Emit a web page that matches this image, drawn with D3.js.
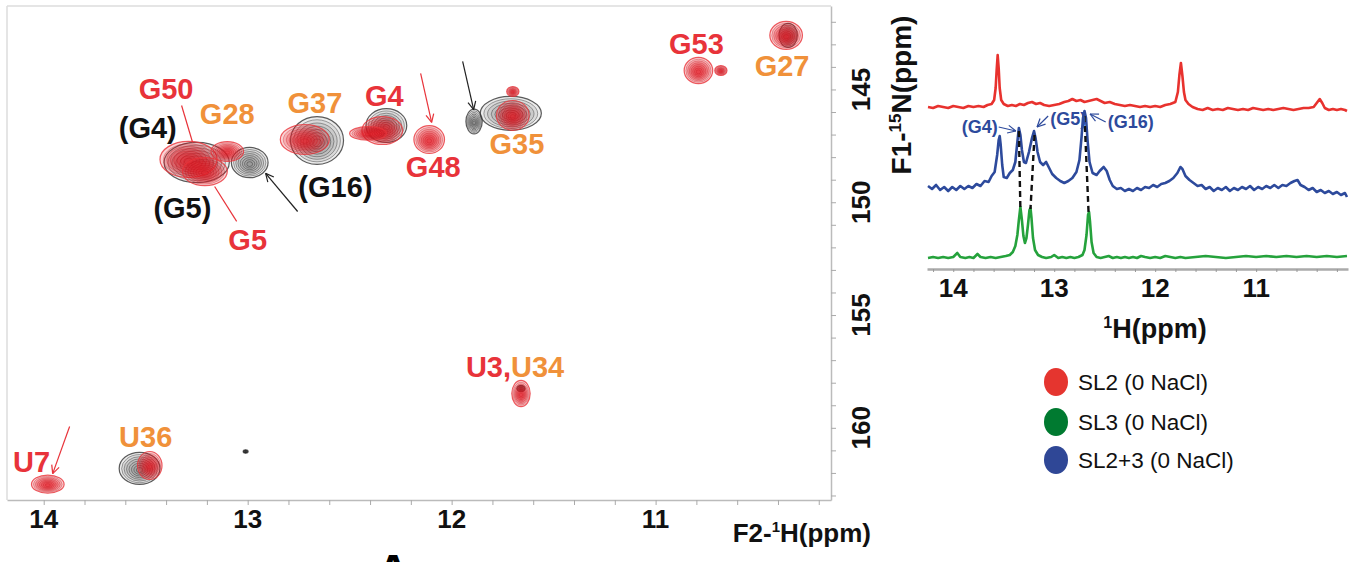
<!DOCTYPE html>
<html><head><meta charset="utf-8">
<script src="https://cdn.jsdelivr.net/npm/d3@7"></script>
<style>
body{margin:0;background:#fff}
svg{display:block}
text{font-family:"Liberation Sans",Arial,Helvetica,sans-serif}
</style></head>
<body><svg id="c" width="1359" height="562"></svg>
<script>
// ---------------- DATA ----------------
// 2D HSQC peaks (1H ppm, 15N ppm, half-width in 1H ppm, half-width in 15N ppm)
const complexPeaks = [ // SL2+3 complex (black/grey contours)
  {h:13.25, n:148.24, wh:0.16, wn:0.89},
  {h:12.99, n:148.24, wh:0.09, wn:0.67},
  {h:12.66, n:147.26, wh:0.13, wn:1.06},
  {h:12.32, n:146.60, wh:0.10, wn:0.75},
  {h:11.89, n:146.42, wh:0.04, wn:0.55},
  {h:11.71, n:146.06, wh:0.15, wn:0.75},
  {h:13.53, n:161.80, wh:0.10, wn:0.71},
  {h:10.35, n:142.60, wh:0.045, wn:0.53},
  {h:13.01, n:161.05, wh:0.012, wn:0.07},
  {h:11.66, n:158.26, wh:0.02, wn:0.14}
];
const freePeaks = [ // free SL2 / SL3 (red contours)
  {h:13.29, n:148.10, wh:0.14, wn:0.80},
  {h:13.21, n:148.64, wh:0.11, wn:0.62},
  {h:13.10, n:147.75, wh:0.08, wn:0.44},
  {h:12.72, n:147.22, wh:0.12, wn:0.66},
  {h:12.34, n:146.82, wh:0.10, wn:0.62},
  {h:12.41, n:146.95, wh:0.09, wn:0.30},
  {h:12.11, n:147.22, wh:0.075, wn:0.62},
  {h:11.70, n:146.15, wh:0.08, wn:0.66},
  {h:11.70, n:145.09, wh:0.03, wn:0.22},
  {h:10.79, n:144.16, wh:0.07, wn:0.58},
  {h:10.68, n:144.16, wh:0.03, wn:0.22},
  {h:10.36, n:142.60, wh:0.08, wn:0.62},
  {h:11.66, n:158.48, wh:0.045, wn:0.58},
  {h:13.48, n:161.67, wh:0.06, wn:0.62},
  {h:13.98, n:162.50, wh:0.08, wn:0.40}
];
// peak labels: text, group, 1H ppm (anchor), 15N ppm (baseline), anchor
const peakLabels = [
  {t:"G50",  g:"SL2", h:13.40, n:145.44, a:"middle"},
  {t:"G28",  g:"SL3", h:13.10, n:146.55, a:"middle"},
  {t:"(G4)", g:"cx",  h:13.49, n:147.13, a:"middle"},
  {t:"(G5)", g:"cx",  h:13.32, n:150.68, a:"middle"},
  {t:"G5",   g:"SL2", h:13.00, n:152.10, a:"middle"},
  {t:"G37",  g:"SL3", h:12.67, n:146.06, a:"middle"},
  {t:"(G16)",g:"cx",  h:12.57, n:149.75, a:"middle"},
  {t:"G4",   g:"SL2", h:12.33, n:145.75, a:"middle"},
  {t:"G48",  g:"SL2", h:12.09, n:148.90, a:"middle"},
  {t:"G35",  g:"SL3", h:11.68, n:147.88, a:"middle"},
  {t:"G53",  g:"SL2", h:10.80, n:143.45, a:"middle"},
  {t:"G27",  g:"SL3", h:10.38, n:144.42, a:"middle"},
  {t:"U36",  g:"SL3", h:13.50, n:160.83, a:"middle"},
  {t:"U7",   g:"SL2", h:14.15, n:161.94, a:"start"}
];
const mixedLabel = {parts:[{t:"U3,",g:"SL2"},{t:"U34",g:"SL3"}], h:11.93, n:157.73};
// pointer lines in 2D (from -> to, ppm), arrow = arrowhead at end
const pointers2D = [
  {h1:13.324,n1:145.71,h2:13.270,n2:147.35,g:"SL2",arrow:false},
  {h1:13.162,n1:149.30,h2:13.054,n2:150.85,g:"SL2",arrow:false},
  {h1:12.755,n1:150.41,h2:12.912,n2:148.72,g:"cx", arrow:true},
  {h1:12.152,n1:144.29,h2:12.098,n2:146.46,g:"SL2",arrow:true},
  {h1:11.946,n1:143.76,h2:11.892,n2:145.89,g:"cx", arrow:true},
  {h1:13.873,n1:159.94,h2:13.956,n2:162.03,g:"SL2",arrow:true}
];
const xTickLabels = [14, 13, 12, 11];
const yTickLabels = [145, 150, 155, 160];

// 1D spectra: [1H ppm, intensity (stacked, arbitrary units)]
const sl2Trace = [[14.25,162],[14.2,161],[14.15,163],[14.1,162],[14.05,161],[14,163],[13.95,162],[13.9,161],[13.85,163],[13.8,162],[13.75,163],[13.7,162],[13.66,164],[13.62,165],[13.595,169],[13.58,181],[13.57,199],[13.56,214],[13.55,201],[13.54,181],[13.525,169],[13.5,165],[13.46,163],[13.42,164],[13.38,163],[13.34,165],[13.3,164],[13.26,166],[13.22,167],[13.18,165],[13.14,166],[13.1,164],[13.05,163],[13,164],[12.95,165],[12.9,167],[12.86,168],[12.82,170],[12.78,168],[12.74,169],[12.7,167],[12.66,168],[12.62,169],[12.58,170],[12.54,168],[12.5,166],[12.45,167],[12.4,165],[12.35,164],[12.3,163],[12.25,164],[12.2,163],[12.15,162],[12.1,163],[12.05,162],[12,163],[11.95,162],[11.9,164],[11.85,165],[11.8,167],[11.775,177],[11.76,194],[11.745,206],[11.73,193],[11.715,177],[11.7,169],[11.67,165],[11.63,162],[11.58,160],[11.53,159],[11.48,161],[11.43,159],[11.38,160],[11.33,159],[11.28,161],[11.23,160],[11.18,159],[11.13,160],[11.08,159],[11.03,161],[10.98,160],[10.93,159],[10.88,160],[10.83,159],[10.78,160],[10.73,161],[10.68,160],[10.63,159],[10.58,160],[10.53,161],[10.48,161],[10.43,162],[10.4,166],[10.37,170],[10.345,166],[10.32,161],[10.28,159],[10.24,160],[10.2,159],[10.16,160],[10.12,159],[10.1,158]];
const complexTrace = [[14.25,83],[14.21,80],[14.17,84],[14.13,79],[14.09,82],[14.05,78],[14.01,82],[13.97,79],[13.93,83],[13.89,80],[13.85,83],[13.81,81],[13.77,85],[13.73,83],[13.69,88],[13.65,87],[13.62,93],[13.59,97],[13.565,114],[13.55,129],[13.54,133],[13.53,124],[13.515,104],[13.5,92],[13.47,91],[13.44,96],[13.41,99],[13.385,107],[13.365,127],[13.35,141],[13.335,134],[13.32,119],[13.3,107],[13.28,106],[13.25,117],[13.22,131],[13.2,138],[13.185,131],[13.165,117],[13.14,107],[13.11,104],[13.08,107],[13.05,101],[13.02,95],[12.98,91],[12.94,88],[12.9,86],[12.86,88],[12.82,91],[12.78,97],[12.75,109],[12.73,131],[12.715,151],[12.7,158],[12.685,151],[12.67,129],[12.65,107],[12.62,96],[12.58,94],[12.55,98],[12.51,102],[12.48,98],[12.45,89],[12.42,83],[12.38,80],[12.34,81],[12.3,78],[12.26,80],[12.22,78],[12.18,81],[12.14,79],[12.1,82],[12.06,81],[12.02,84],[11.98,82],[11.94,85],[11.9,86],[11.86,88],[11.82,91],[11.78,96],[11.75,102],[11.73,100],[11.7,93],[11.66,89],[11.62,86],[11.58,83],[11.54,84],[11.5,80],[11.46,82],[11.42,78],[11.38,81],[11.34,79],[11.3,82],[11.26,78],[11.22,81],[11.18,79],[11.14,82],[11.1,80],[11.06,83],[11.02,79],[10.98,82],[10.94,80],[10.9,83],[10.86,81],[10.82,84],[10.78,81],[10.74,84],[10.7,83],[10.66,86],[10.62,88],[10.59,89],[10.56,84],[10.52,82],[10.48,79],[10.44,81],[10.4,77],[10.36,79],[10.32,76],[10.28,78],[10.24,75],[10.2,77],[10.16,74],[10.12,76],[10.1,72]];
const sl3Trace = [[14.25,11],[14.2,12],[14.15,11],[14.1,12],[14.05,11],[14,12],[13.96,16],[13.93,12],[13.88,11],[13.84,12],[13.8,11],[13.76,15],[13.73,12],[13.68,11],[13.63,12],[13.58,11],[13.53,12],[13.48,13],[13.44,14],[13.41,17],[13.385,23],[13.365,34],[13.35,49],[13.335,62],[13.32,49],[13.305,33],[13.29,26],[13.275,31],[13.26,44],[13.245,59],[13.235,61],[13.225,51],[13.21,31],[13.19,19],[13.16,14],[13.12,12],[13.08,11],[13.03,12],[13,14],[12.96,11],[12.92,12],[12.88,11],[12.84,12],[12.8,11],[12.76,12],[12.72,14],[12.7,19],[12.68,34],[12.665,54],[12.655,57],[12.645,47],[12.63,27],[12.61,16],[12.58,12],[12.54,11],[12.5,12],[12.46,13],[12.42,11],[12.38,12],[12.34,11],[12.3,12],[12.26,11],[12.22,12],[12.18,11],[12.14,13],[12.1,12],[12.05,11],[12,12],[11.95,11],[11.9,13],[11.85,12],[11.8,11],[11.75,12],[11.7,11],[11.6,12],[11.5,13],[11.4,12],[11.3,11],[11.2,12],[11.1,13],[11,12],[10.9,13],[10.8,12],[10.7,13],[10.6,12],[10.5,13],[10.4,12],[10.3,13],[10.2,12],[10.1,13]];
// dashed correlation lines: complex peak -> SL3 peak
const dashLinks = [[13.35,138,13.335,60],[13.195,134,13.235,60],[12.70,153,12.66,57]];
// 1D annotations
const annot1D = [
  {t:"(G4)",  h:13.56, v:136, a:"end",   x1:13.55, y1:142, x2:13.38, y2:138},
  {t:"(G5)",  h:13.04, v:144, a:"start", x1:13.06, y1:153, x2:13.17, y2:142},
  {t:"(G16)", h:12.47, v:141, a:"start", x1:12.49, y1:147, x2:12.645,y2:155}
];
const specTicks = [14, 13, 12, 11];
const legendItems = [
  {label:"SL2 (0 NaCl)",   color:"#e5352f"},
  {label:"SL3 (0 NaCl)",   color:"#007a30"},
  {label:"SL2+3 (0 NaCl)", color:"#2f4796"}
];

// ---------------- DRAW ----------------
const svg = d3.select("#c");
const col = {SL2:"#e8333a", SL3:"#f0913a", cx:"#111"};

// ---- 2D panel ----
const x2 = d3.scaleLinear().domain([14.18, 10.14]).range([7, 831]);
const y2 = d3.scaleLinear().domain([141.3, 163.2]).range([6, 500]);

svg.append("line").attr("x1",7).attr("x2",831).attr("y1",6).attr("y2",6).attr("stroke","#ddd").attr("stroke-width",1.5);
svg.append("line").attr("x1",7).attr("x2",7).attr("y1",6).attr("y2",500).attr("stroke","#ddd").attr("stroke-width",1.5);

const minorX = d3.range(102, 141, 2).map(d => d / 10);
const gx = svg.append("g").attr("transform","translate(0,500)")
  .call(d3.axisBottom(x2).tickValues(minorX).tickSize(5).tickFormat("").tickSizeOuter(0));
gx.select(".domain").attr("stroke","#bbb").attr("stroke-width",1.5);
gx.selectAll(".tick line").attr("stroke","#aaa");
svg.append("g").selectAll("text").data(xTickLabels).join("text")
  .attr("x", d => x2(d)).attr("y", 528).attr("text-anchor","middle")
  .attr("font-size", 26).attr("font-weight","bold").attr("fill","#111").text(d => d);

const minorY = d3.range(142, 164);
const gy = svg.append("g").attr("transform","translate(831,0)")
  .call(d3.axisRight(y2).tickValues(minorY).tickSize(5).tickFormat("").tickSizeOuter(0));
gy.select(".domain").attr("stroke","#bbb").attr("stroke-width",1.5);
gy.selectAll(".tick line").attr("stroke","#aaa");
svg.append("g").selectAll("text").data(yTickLabels).join("text")
  .attr("transform", d => `translate(870,${y2(d)}) rotate(-90)`).attr("text-anchor","middle")
  .attr("font-size", 26).attr("font-weight","bold").attr("fill","#111").text(d => d);

// axis titles
const xt = svg.append("text").attr("x", 871).attr("y", 542).attr("text-anchor","end")
  .attr("font-size", 26).attr("font-weight","bold").attr("fill","#111");
xt.append("tspan").text("F2-");
xt.append("tspan").attr("font-size",15).attr("dy",-10).text("1");
xt.append("tspan").attr("dy",10).text("H(ppm)");

const yt = svg.append("text").attr("transform","translate(911,95) rotate(-90)").attr("text-anchor","middle")
  .attr("font-size", 28).attr("font-weight","bold").attr("fill","#111");
yt.append("tspan").text("F1-");
yt.append("tspan").attr("font-size",17).attr("dy",-10).text("15");
yt.append("tspan").attr("dy",10).text("N(ppm)");

// contour blobs
const levels = [1, 0.88, 0.76, 0.64, 0.52, 0.4, 0.28, 0.16];
function blobs(data, fill, stroke, fo, so, edge) {
  const g = svg.append("g");
  data.forEach(p => {
    const cx = x2(p.h), cy = y2(p.n);
    const rx = Math.abs(x2(p.h + p.wh) - cx), ry = Math.abs(y2(p.n + p.wn) - cy);
    levels.forEach((k, i) => {
      g.append("ellipse").attr("cx", cx).attr("cy", cy + (1 - k) * ry * 0.12)
        .attr("rx", rx * k).attr("ry", ry * k)
        .attr("fill", fill).attr("fill-opacity", fo)
        .attr("stroke", i === 0 ? edge : stroke).attr("stroke-opacity", i === 0 ? 0.8 : so)
        .attr("stroke-width", i === 0 ? 1.2 : 0.7);
    });
  });
}
blobs(complexPeaks, "#7a7a7a", "#1a1a1a", 0.15, 0.55, "#333");
blobs(freePeaks, "#e8202a", "#c01018", 0.2, 0.45, "#e8333a");

// pointers
function arrowLine(g, xa, ya, xb, yb, color, head, w) {
  g.append("line").attr("x1",xa).attr("y1",ya).attr("x2",xb).attr("y2",yb)
    .attr("stroke",color).attr("stroke-width",w);
  if (head) {
    const ang = Math.atan2(yb - ya, xb - xa), L = 9, s = 0.45;
    [ang + Math.PI - s, ang + Math.PI + s].forEach(a => {
      g.append("line").attr("x1",xb).attr("y1",yb)
        .attr("x2", xb + L * Math.cos(a)).attr("y2", yb + L * Math.sin(a))
        .attr("stroke",color).attr("stroke-width",w);
    });
  }
}
const pg = svg.append("g");
pointers2D.forEach(p => arrowLine(pg, x2(p.h1), y2(p.n1), x2(p.h2), y2(p.n2),
  p.g === "cx" ? "#222" : "#e8333a", p.arrow, 1.2));

// labels
svg.append("g").selectAll("text").data(peakLabels).join("text")
  .attr("x", d => x2(d.h)).attr("y", d => y2(d.n)).attr("text-anchor", d => d.a)
  .attr("font-size", 29).attr("font-weight","bold").attr("fill", d => col[d.g]).text(d => d.t);
const ml = svg.append("text").attr("x", x2(mixedLabel.h)).attr("y", y2(mixedLabel.n))
  .attr("font-size", 29).attr("font-weight","bold");
mixedLabel.parts.forEach(p => ml.append("tspan").attr("fill", col[p.g]).text(p.t));

// panel letter (cut off at bottom, as in the original figure)
svg.append("text").attr("x", 393).attr("y", 588).attr("text-anchor","middle")
  .attr("font-size", 48).attr("font-weight","bold").attr("fill","#000").text("A");

// ---- 1D panel ----
const x1 = d3.scaleLinear().domain([14.26, 10.09]).range([927, 1348]);
const y1 = d3.scaleLinear().domain([0, 230]).range([269, 39]);

const ga = svg.append("g").attr("transform","translate(0,269)")
  .call(d3.axisBottom(x1).tickValues(d3.range(102, 143, 2).map(d => d / 10)).tickSize(3).tickFormat("").tickSizeOuter(0));
ga.select(".domain").attr("stroke","#aaa").attr("stroke-width",2.5);
ga.selectAll(".tick line").attr("stroke","#999");
svg.append("g").selectAll("text").data(specTicks).join("text")
  .attr("x", d => x1(d)).attr("y", 297).attr("text-anchor","middle")
  .attr("font-size", 26).attr("font-weight","bold").attr("fill","#111").text(d => d);
const ht = svg.append("text").attr("x", 1155).attr("y", 338).attr("text-anchor","middle")
  .attr("font-size", 27).attr("font-weight","bold").attr("fill","#111");
ht.append("tspan").attr("font-size",16).attr("dy",-10).text("1");
ht.append("tspan").attr("dy",10).text("H(ppm)");

const line = d3.line().x(d => x1(d[0])).y(d => y1(d[1]));
[[sl2Trace,"#e8322e"],[complexTrace,"#2d4a9c"],[sl3Trace,"#25a23c"]].forEach(([d,c]) => {
  svg.append("path").datum(d).attr("d", line).attr("fill","none")
    .attr("stroke", c).attr("stroke-width", 2.6).attr("stroke-linejoin","round");
});
svg.append("g").selectAll("line").data(dashLinks).join("line")
  .attr("x1", d => x1(d[0])).attr("y1", d => y1(d[1]))
  .attr("x2", d => x1(d[2])).attr("y2", d => y1(d[3]))
  .attr("stroke","#111").attr("stroke-width",2.4).attr("stroke-dasharray","6,4");

const ag = svg.append("g");
annot1D.forEach(a => {
  ag.append("text").attr("x", x1(a.h)).attr("y", y1(a.v)).attr("text-anchor", a.a)
    .attr("font-size", 18).attr("font-weight","bold").attr("fill","#2d4a9c").text(a.t);
  arrowLine(ag, x1(a.x1), y1(a.y1), x1(a.x2), y1(a.y2), "#2d4a9c", true, 1.2);
});

// legend
const lg = svg.append("g").selectAll("g").data(legendItems).join("g")
  .attr("transform", (d, i) => `translate(1056,${[382, 422, 460][i]})`);
lg.append("ellipse").attr("rx", 12).attr("ry", 14).attr("fill", d => d.color);
lg.append("text").attr("x", 22).attr("y", 8).attr("font-size", 22.5).attr("fill","#111").text(d => d.label);
</script></body></html>
